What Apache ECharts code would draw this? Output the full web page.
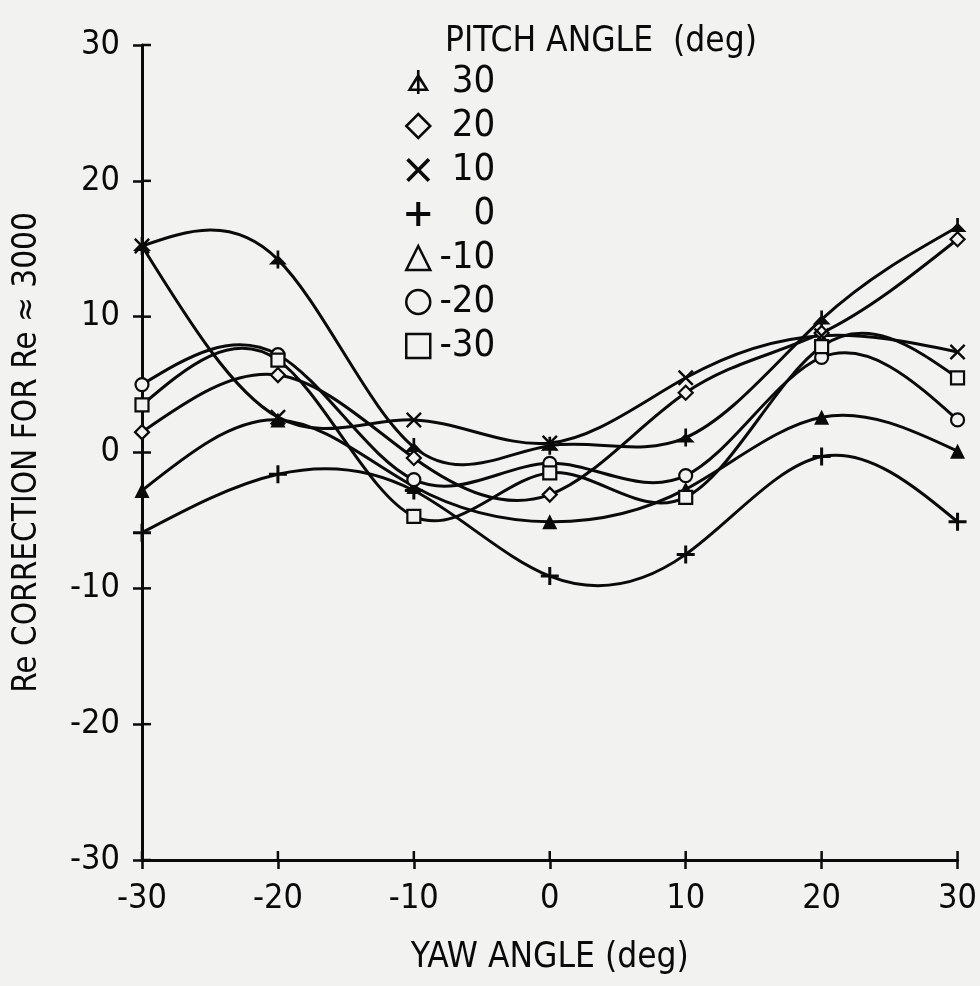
<!DOCTYPE html>
<html>
<head>
<meta charset="utf-8">
<script src="https://cdn.jsdelivr.net/npm/echarts@6/dist/echarts.min.js"></script>
<style>
html,body{margin:0;padding:0;background:#f2f2f0;}
#chart{width:980px;height:986px;}
</style>
</head>
<body>
<div id="chart"></div>
<script>
// ---- data ----
const yawAngles = [-30, -20, -10, 0, 10, 20, 30];
const pitchNames = ['30', '20', '10', '0', '-10', '-20', '-30'];
const pitch30  = [15.2, 14.2,  0.4,  0.5,  1.1,  9.8, 16.6];
const pitch20  = [ 1.5,  5.7, -0.4, -3.1,  4.4,  8.8, 15.7];
const pitch10  = [15.2,  2.6,  2.4,  0.7,  5.5,  8.6,  7.4];
const pitch0   = [-5.9, -1.6, -2.8, -9.1, -7.5, -0.3, -5.1];
const pitchM10 = [-2.8,  2.4, -2.5, -5.1, -2.7,  2.6,  0.1];
const pitchM20 = [ 5.0,  7.2, -2.0, -0.8, -1.7,  7.0,  2.4];
const pitchM30 = [ 3.5,  6.8, -4.7, -1.5, -3.3,  7.8,  5.5];
const xTicks = [-30, -20, -10, 0, 10, 20, 30];
const yTicks = [-30, -20, -10, 0, 10, 20, 30];

const FONT = "'Liberation Sans Narrow', 'DejaVu Sans Condensed', 'Roboto Condensed', sans-serif";
const INK = '#0a0a0a';
const BG = '#f2f2f0';
const TICK_LEN = 9;

const symTriStemFilled = 'path://M-0.9,-9 L0.9,-9 L0.9,-3 L6,5 L0.9,5 L0.9,9 L-0.9,9 L-0.9,5 L-6,5 L-0.9,-3 Z';
const symTriStemOutline = 'path://M0,-9 L11,9 L-11,9 Z M0,-3.6 L-6.6,6.6 L6.6,6.6 Z M-1.3,-12 L1.3,-12 L1.3,12 L-1.3,12 Z';
const symX = 'path://M0,-1.3 L4.7,-6 L6,-4.7 L1.3,0 L6,4.7 L4.7,6 L0,1.3 L-4.7,6 L-6,4.7 L-1.3,0 L-6,-4.7 L-4.7,-6 Z';
const symPlus = 'path://M-1,-6 L1,-6 L1,-1 L6,-1 L6,1 L1,1 L1,6 L-1,6 L-1,1 L-6,1 L-6,-1 L-1,-1 Z';

const seriesValues = [pitch30, pitch20, pitch10, pitch0, pitchM10, pitchM20, pitchM30];

// natural cubic spline slopes at the knots (curve geometry only)
function splineSlopes(xs, ys) {
  const n = xs.length;
  const h = [];
  for (let i = 0; i < n - 1; i++) h.push(xs[i + 1] - xs[i]);
  const a = new Array(n).fill(0), b = new Array(n).fill(1), c = new Array(n).fill(0), d = new Array(n).fill(0);
  for (let i = 1; i < n - 1; i++) {
    a[i] = h[i - 1]; b[i] = 2 * (h[i - 1] + h[i]); c[i] = h[i];
    d[i] = 6 * ((ys[i + 1] - ys[i]) / h[i] - (ys[i] - ys[i - 1]) / h[i - 1]);
  }
  const cp = new Array(n).fill(0), dp = new Array(n).fill(0);
  cp[0] = c[0] / b[0]; dp[0] = d[0] / b[0];
  for (let i = 1; i < n; i++) {
    const m = b[i] - a[i] * cp[i - 1];
    cp[i] = c[i] / m; dp[i] = (d[i] - a[i] * dp[i - 1]) / m;
  }
  const M = new Array(n).fill(0);
  M[n - 1] = dp[n - 1];
  for (let i = n - 2; i >= 0; i--) M[i] = dp[i] - cp[i] * M[i + 1];
  const s = [];
  for (let i = 0; i < n - 1; i++) {
    s.push((ys[i + 1] - ys[i]) / h[i] - h[i] * (2 * M[i] + M[i + 1]) / 6);
  }
  const k = n - 2;
  s.push((ys[k + 1] - ys[k]) / h[k] + h[k] * (M[k] + 2 * M[k + 1]) / 6);
  return s;
}

function curveSeries(vals, idx) {
  const slopes = splineSlopes(yawAngles, vals);
  const segs = [];
  for (let i = 0; i < yawAngles.length - 1; i++) {
    segs.push([yawAngles[i], vals[i], yawAngles[i + 1], vals[i + 1], slopes[i], slopes[i + 1]]);
  }
  return {
    name: 'curve' + idx,
    type: 'custom',
    data: segs,
    encode: { x: [0, 2], y: [1, 3] },
    silent: true,
    clip: false,
    z: 2,
    renderItem: function (params, api) {
      const x0 = api.value(0), y0 = api.value(1), x1 = api.value(2), y1 = api.value(3);
      const m0 = api.value(4), m1 = api.value(5);
      const hh = (x1 - x0) / 3;
      const p0 = api.coord([x0, y0]);
      const p3 = api.coord([x1, y1]);
      const c1 = api.coord([x0 + hh, y0 + m0 * hh]);
      const c2 = api.coord([x1 - hh, y1 - m1 * hh]);
      return {
        type: 'bezierCurve',
        shape: { x1: p0[0], y1: p0[1], x2: p3[0], y2: p3[1], cpx1: c1[0], cpy1: c1[1], cpx2: c2[0], cpy2: c2[1] },
        style: { stroke: INK, lineWidth: 3, fill: null }
      };
    }
  };
}

// inner halves of the crossing axis ticks (drawn from the tick arrays through the axes)
const innerTickSeries = [{
  name: 'xInnerTicks', type: 'custom', silent: true, clip: false, z: 5,
  data: xTicks.map(v => [v, yTicks[0]]),
  encode: { x: 0, y: 1 },
  renderItem: function (params, api) {
    const p = api.coord([api.value(0), api.value(1)]);
    return { type: 'line', shape: { x1: p[0], y1: p[1], x2: p[0], y2: p[1] - TICK_LEN },
      style: { stroke: INK, lineWidth: 2.5 } };
  }
}, {
  name: 'yInnerTicks', type: 'custom', silent: true, clip: false, z: 5,
  data: yTicks.map(v => [xTicks[0], v]),
  encode: { x: 0, y: 1 },
  renderItem: function (params, api) {
    const p = api.coord([api.value(0), api.value(1)]);
    return { type: 'line', shape: { x1: p[0], y1: p[1], x2: p[0] + TICK_LEN, y2: p[1] },
      style: { stroke: INK, lineWidth: 2.5 } };
  }
}];

const outlineItem = { color: BG, borderColor: INK, borderWidth: 2.2, opacity: 1 };
const filledItem = { color: INK, borderWidth: 0, opacity: 1 };
const plotSymbols = [
  { symbol: symTriStemFilled, size: 18, style: filledItem },
  { symbol: 'diamond', size: 14, style: outlineItem },
  { symbol: symX, size: 16, style: filledItem },
  { symbol: symPlus, size: 18, style: filledItem },
  { symbol: 'triangle', size: 15, style: filledItem },
  { symbol: 'circle', size: 13, style: outlineItem },
  { symbol: 'rect', size: 13, style: outlineItem }
];

const markerSeries = pitchNames.map((name, i) => ({
  name: name,
  type: 'scatter',
  data: yawAngles.map((x, j) => [x, seriesValues[i][j]]),
  symbol: plotSymbols[i].symbol,
  symbolSize: plotSymbols[i].size,
  itemStyle: plotSymbols[i].style,
  emphasis: { disabled: true },
  z: 4
}));

const legendOutline = { color: BG, borderColor: INK, borderWidth: 2.5, opacity: 1 };
const legendFilled = { color: INK, borderWidth: 0, opacity: 1 };
const legendIcons = [
  { icon: symTriStemOutline, itemStyle: legendFilled },
  { icon: 'diamond', itemStyle: legendOutline },
  { icon: symX, itemStyle: legendFilled },
  { icon: symPlus, itemStyle: legendFilled },
  { icon: 'triangle', itemStyle: legendOutline },
  { icon: 'circle', itemStyle: legendOutline },
  { icon: 'rect', itemStyle: legendOutline }
];

const tickStyle = { color: INK, width: 2.5 };

const chart = echarts.init(document.getElementById('chart'), null, { renderer: 'canvas' });
chart.setOption({
  backgroundColor: BG,
  animation: false,
  title: {
    text: 'PITCH ANGLE  (deg)',
    left: 440, top: 19,
    textStyle: { fontFamily: FONT, fontSize: 35, fontWeight: 'normal', color: INK }
  },
  legend: {
    orient: 'vertical',
    left: 400, top: 58,
    itemWidth: 24, itemHeight: 24,
    itemGap: 6,
    selectedMode: false,
    data: pitchNames.map((n, i) => Object.assign({ name: n }, legendIcons[i])),
    formatter: n => '{a|' + n + '}',
    textStyle: {
      color: INK, fontFamily: FONT,
      rich: { a: { width: 60, align: 'right', fontSize: 38, fontFamily: FONT, color: INK } }
    }
  },
  grid: { left: 142, right: 18, top: 45, bottom: 126, containLabel: false },
  xAxis: {
    type: 'value', min: -30, max: 30, interval: 10,
    name: 'YAW ANGLE (deg)', nameLocation: 'middle', nameGap: 80,
    nameTextStyle: { fontFamily: FONT, fontSize: 35, color: INK },
    axisLine: { show: true, onZero: false, lineStyle: { color: INK, width: 3 } },
    axisTick: { show: true, length: TICK_LEN, lineStyle: tickStyle },
    axisLabel: { margin: 22, fontFamily: FONT, fontSize: 34, color: INK,
      formatter: v => xTicks.indexOf(v) >= 0 ? String(v) : '' },
    splitLine: { show: false }
  },
  yAxis: {
    type: 'value', min: -30, max: 30, interval: 10,
    name: 'Re CORRECTION FOR Re \u2248 3000', nameLocation: 'middle', nameGap: 98,
    nameTextStyle: { fontFamily: FONT, fontSize: 33, color: INK },
    axisLine: { show: true, onZero: false, lineStyle: { color: INK, width: 3 } },
    axisTick: { show: true, length: TICK_LEN, lineStyle: tickStyle },
    axisLabel: { margin: 22, fontFamily: FONT, fontSize: 34, color: INK,
      formatter: v => yTicks.indexOf(v) >= 0 ? String(v) : '' },
    splitLine: { show: false }
  },
  series: seriesValues.map((v, i) => curveSeries(v, i)).concat(markerSeries, innerTickSeries)
});
</script>
</body>
</html>
